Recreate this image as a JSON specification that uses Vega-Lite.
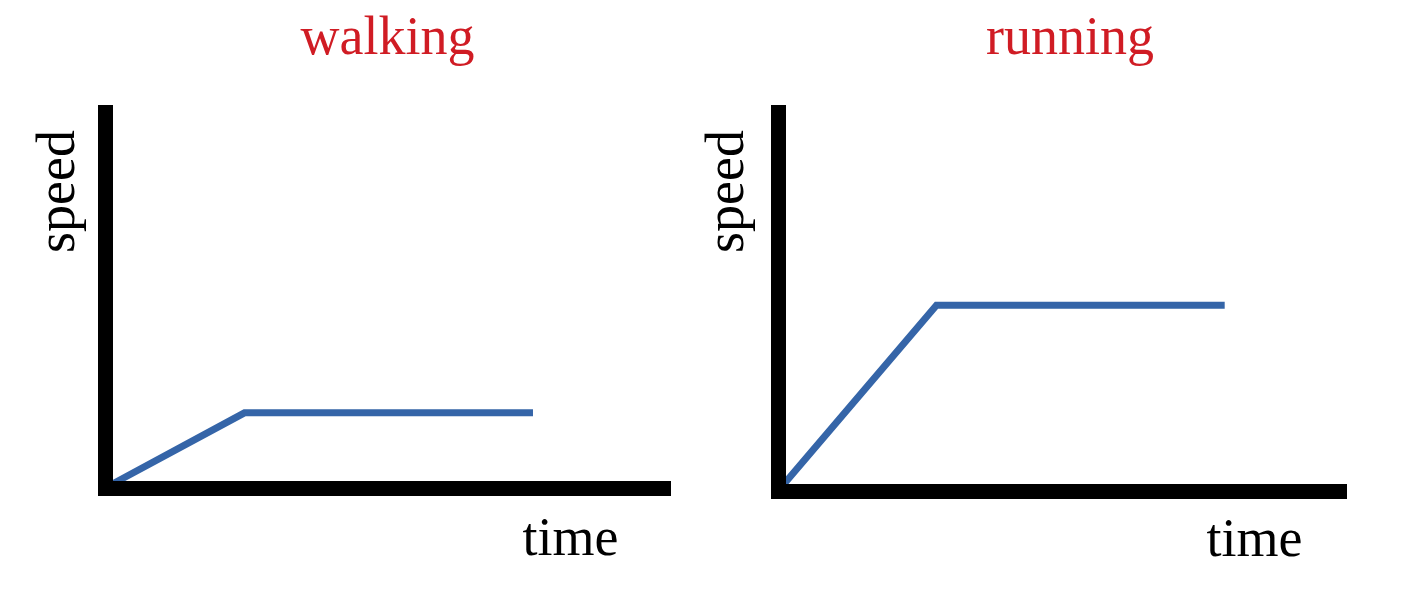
{
  "$schema": "https://vega.github.io/schema/vega-lite/v6.json",
  "background": "white",
  "padding": {"left": 30, "top": 11, "right": 5, "bottom": 5},
  "bounds": "flush",
  "spacing": 115,
  "config": {
    "view": {"stroke": null},
    "title": {
      "font": "Liberation Serif",
      "fontSize": 54,
      "fontWeight": "normal",
      "color": "#d01c24",
      "anchor": "middle",
      "frame": "group",
      "baseline": "alphabetic",
      "offset": 47
    },
    "axis": {
      "labels": false,
      "ticks": false,
      "grid": false,
      "domainColor": "black",
      "domainWidth": 15,
      "domainCap": "square",
      "titleFont": "Liberation Serif",
      "titleFontSize": 54,
      "titleFontWeight": "normal",
      "titleColor": "black",
      "titleBaseline": "alphabetic",
      "titleAlign": "center",
      "titlePadding": 0
    },
    "axisY": {"titleAngle": -90},
    "axisX": {"titleAngle": 0}
  },
  "data": {
    "values": [
      {"activity": "walking", "time": 0, "speed": 0},
      {"activity": "walking", "time": 2.5, "speed": 2},
      {"activity": "walking", "time": 7.67, "speed": 2},
      {"activity": "running", "time": 0, "speed": 0},
      {"activity": "running", "time": 2.81, "speed": 4.9},
      {"activity": "running", "time": 7.92, "speed": 4.9}
    ]
  },
  "hconcat": [
    {
      "width": 558,
      "height": 376,
      "title": {"text": "walking", "dx": 3.5},
      "transform": [{"filter": "datum.activity === 'walking'"}],
      "mark": {"type": "line", "color": "#3565a8", "strokeWidth": 7, "strokeCap": "butt", "strokeJoin": "miter"},
      "encoding": {
        "x": {
          "field": "time", "type": "quantitative",
          "scale": {"domain": [0, 10], "nice": false},
          "axis": {"title": "time", "titleX": 465, "titleY": 66, "zindex": 2}
        },
        "y": {
          "field": "speed", "type": "quantitative",
          "scale": {"domain": [0, 10], "nice": false},
          "axis": {"title": "speed", "titleX": -32, "titleY": 79, "zindex": 2}
        }
      }
    },
    {
      "width": 564,
      "height": 379,
      "title": {"text": "running", "dx": 10},
      "transform": [{"filter": "datum.activity === 'running'"}],
      "mark": {"type": "line", "color": "#3565a8", "strokeWidth": 7, "strokeCap": "butt", "strokeJoin": "miter"},
      "encoding": {
        "x": {
          "field": "time", "type": "quantitative",
          "scale": {"domain": [0, 10], "nice": false},
          "axis": {"title": "time", "titleX": 476, "titleY": 64.5, "zindex": 2}
        },
        "y": {
          "field": "speed", "type": "quantitative",
          "scale": {"domain": [0, 10], "nice": false},
          "axis": {"title": "speed", "titleX": -35.5, "titleY": 79, "zindex": 2}
        }
      }
    }
  ]
}
